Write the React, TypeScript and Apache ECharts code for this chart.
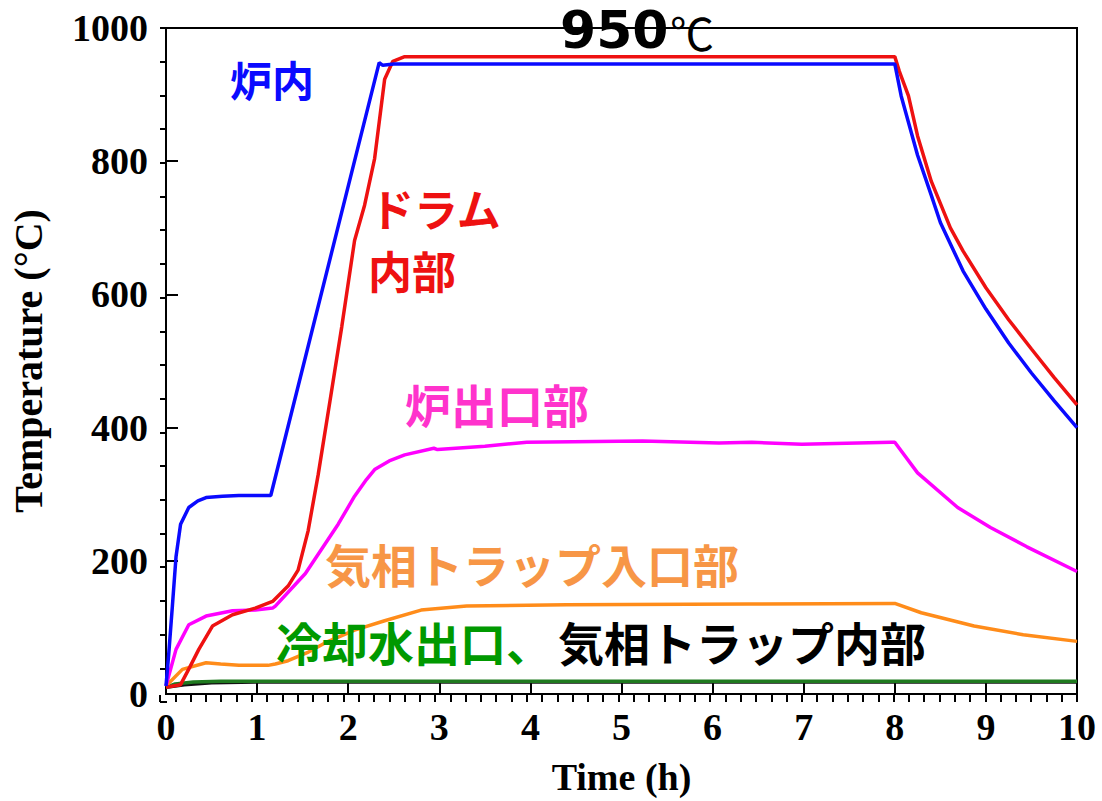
import React, { useEffect, useRef } from "react";
import * as echarts from "echarts";

// ---- data (time in h, temperature in °C) ----
const furnaceT = [0, 0.03, 0.07, 0.11, 0.16, 0.25, 0.35, 0.44, 0.62, 0.8, 1.15, 2.34, 2.38, 2.5, 8.0, 8.07, 8.25, 8.4, 8.5, 8.75, 9.0, 9.25, 9.5, 9.75, 10];
const furnaceV = [12, 60, 132, 206, 255, 280, 290, 295, 297, 298, 298, 948, 944, 946, 946, 898, 809, 749, 708, 635, 578, 527, 482, 440, 400];

const drumT = [0, 0.16, 0.26, 0.36, 0.51, 0.73, 0.98, 1.17, 1.34, 1.45, 1.56, 1.67, 1.8, 1.93, 2.07, 2.18, 2.29, 2.4, 2.49, 2.62, 8.0, 8.05, 8.15, 8.25, 8.4, 8.61, 8.75, 9.0, 9.25, 9.5, 9.75, 10];
const drumV = [10, 14, 40, 67, 102, 119, 129, 139, 162, 186, 245, 329, 440, 552, 681, 734, 804, 923, 950, 957, 957, 935, 898, 838, 770, 700, 665, 610, 562, 518, 475, 434];

const outletT = [0, 0.11, 0.25, 0.44, 0.73, 0.98, 1.17, 1.2, 1.53, 1.89, 2.07, 2.2, 2.29, 2.45, 2.62, 2.94, 2.98, 3.5, 3.96, 5.23, 6.07, 6.43, 6.98, 7.96, 8.0, 8.25, 8.69, 9.05, 9.45, 10];
const outletV = [12, 67, 104, 117, 125, 126, 129, 132, 181, 255, 297, 322, 337, 350, 359, 369, 367, 372, 378, 380, 377, 378, 375, 378, 378, 332, 280, 250, 221, 184];

const trapInT = [0, 0.18, 0.44, 0.6, 0.8, 1.12, 1.2, 1.34, 1.55, 1.75, 2.07, 2.4, 2.8, 3.3, 4.4, 6.4, 8.0, 8.29, 8.87, 9.41, 10];
const trapInV = [12, 37, 47, 45, 43, 43, 45, 50, 62, 77, 96, 110, 126, 132, 134, 135, 136, 122, 102, 89, 79];

const trapInsideT = [0, 0.2, 0.5, 1, 10];
const trapInsideV = [10, 14, 17, 18, 18];

const coolingT = [0, 0.1, 0.3, 0.6, 10];
const coolingV = [10, 15, 18, 19, 19];

// [min, max, major interval]; minor ticks: every 10 min (0..600 min), every 50 °C
const xTicks = [0, 10, 1];
const xMinorTicks = [0, 600, 10];
const yTicks = [0, 1000, 200];
const yMinorTicks = [0, 1000, 50];

const pairs = (t: number[], v: number[]) => t.map((x, i) => [x, v[i]]);

const serif = '"Liberation Serif", "Times New Roman", serif';
const cjk = '"Noto Sans CJK JP", sans-serif';

export default function App() {
  const ref = useRef<HTMLDivElement>(null);
  useEffect(() => {
    document.body.style.margin = "0";
    const chart = echarts.init(ref.current!, undefined, { renderer: "svg" });
    const line = (name: string, t: number[], v: number[], color: string, z: number) => ({
      name,
      type: "line",
      xAxisIndex: 0,
      yAxisIndex: 0,
      data: pairs(t, v),
      showSymbol: false,
      symbol: "none",
      lineStyle: { color, width: 3.5 },
      z,
    });
    const label = (text: string, x: number, y: number, color: string, size: number, family = cjk, weight = "bold") => ({
      type: "text",
      x,
      y,
      z: 100,
      style: {
        text,
        fill: color,
        font: `${weight} ${size}px ${family}`,
        textAlign: "left",
        textVerticalAlign: "middle",
        align: "left",
        verticalAlign: "middle",
      },
    });
    const labelStyle = { fontFamily: serif, fontWeight: "bold", fontSize: 38, color: "#000" };
    const minorAxis = (ticks: number[], position: string) => ({
      type: "value",
      gridIndex: 1,
      min: ticks[0],
      max: ticks[1],
      interval: ticks[2],
      position,
      axisLine: { show: false },
      axisTick: { show: true, inside: true, length: 7, lineStyle: { color: "#000", width: 2 } },
      axisLabel: { show: false },
      splitLine: { show: false },
    });
    const box = { left: 160, right: 25, top: 28, bottom: 99 };
    chart.setOption({
      animation: false,
      backgroundColor: "#fff",
      grid: [
        { ...box, show: true, borderColor: "#000", borderWidth: 2 },
        { ...box, show: false },
      ],
      xAxis: [
        {
          type: "value",
          gridIndex: 0,
          min: xTicks[0],
          max: xTicks[1],
          interval: xTicks[2],
          position: "bottom",
          name: "Time (h)",
          nameLocation: "middle",
          nameGap: 64,
          nameTextStyle: { fontFamily: serif, fontWeight: "bold", fontSize: 38, color: "#000" },
          axisLine: { show: true, lineStyle: { color: "#000", width: 2 } },
          axisTick: { show: true, inside: true, length: 12, lineStyle: { color: "#000", width: 2 } },
          splitLine: { show: false },
          axisLabel: { ...labelStyle, margin: 14 },
        },
        minorAxis(xMinorTicks, "bottom"),
      ],
      yAxis: [
        {
          type: "value",
          gridIndex: 0,
          min: yTicks[0],
          max: yTicks[1],
          interval: yTicks[2],
          position: "left",
          name: "Temperature (°C)",
          nameLocation: "middle",
          nameGap: 118,
          nameTextStyle: { fontFamily: serif, fontWeight: "bold", fontSize: 40, color: "#000" },
          axisLine: { show: true, lineStyle: { color: "#000", width: 2 } },
          axisTick: { show: true, inside: true, length: 12, lineStyle: { color: "#000", width: 2 } },
          splitLine: { show: false },
          axisLabel: { ...labelStyle, margin: 18, formatter: (v: number) => String(v) },
        },
        minorAxis(yMinorTicks, "left"),
      ],
      series: [
        line("気相トラップ内部", trapInsideT, trapInsideV, "#111111", 2),
        line("冷却水出口", coolingT, coolingV, "#1f7a1f", 3),
        line("気相トラップ入口部", trapInT, trapInV, "#ff8c1a", 4),
        line("炉出口部", outletT, outletV, "#ff00ff", 5),
        line("ドラム内部", drumT, drumV, "#ee1111", 6),
        line("炉内", furnaceT, furnaceV, "#0a0aff", 7),
      ],
      graphic: [
        label("炉内", 230, 78, "#0a0aff", 42),
        label("950", 560, 30, "#000", 52, '"DejaVu Sans", sans-serif'),
        label("℃", 670, 32, "#000", 44, cjk, "normal"),
        label("ドラム", 370, 208, "#ee1111", 44),
        label("内部", 368, 270, "#ee1111", 44),
        label("炉出口部", 405, 403, "#ff33cc", 46),
        label("気相トラップ入口部", 325, 563, "#f79646", 46),
        label("冷却水出口、", 276, 641, "#009900", 46),
        label("気相トラップ内部", 558, 641, "#000", 46),
      ],
    });
    return () => chart.dispose();
  }, []);
  return <div ref={ref} style={{ width: 1102, height: 801 }} />;
}
